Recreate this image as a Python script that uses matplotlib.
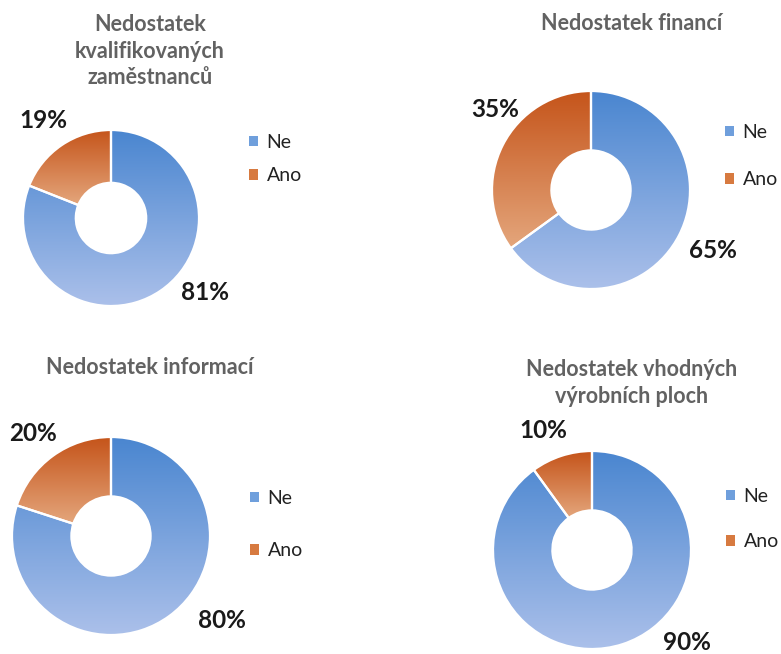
import numpy as np
import matplotlib
matplotlib.use("Agg")
import matplotlib.pyplot as plt
from matplotlib.colors import LinearSegmentedColormap
from matplotlib.patches import Patch

plt.rcParams['font.family'] = ['Lato', 'DejaVu Sans']

# data
titles = ["Nedostatek\nkvalifikovaných\nzaměstnanců",
          "Nedostatek financí",
          "Nedostatek informací",
          "Nedostatek vhodných\nvýrobních ploch"]
categories = ["Ne", "Ano"]
ne_values = [81, 65, 80, 90]
ano_values = [19, 35, 20, 10]

# colours (top -> bottom of each slice)
blue_grad = ("#4a86d0", "#abc0ea")
orange_grad = ("#c5541a", "#e4a67c")
legend_colors = ["#6f9fdc", "#d77a40"]

W, H = 781, 654
# layout in pixels: donut centre, radius, title centre, legend x, legend rows y,
# label offsets (Ne, Ano) in units of radius
layout = [
    dict(c=(111, 218), r=88, t=(150, 51), lx=249, ly=(141, 177),
         lab=((1.07, -0.85), (-0.77, 1.11))),
    dict(c=(591, 190), r=99, t=(632, 23), lx=725, ly=(131, 181),
         lab=((1.23, -0.61), (-0.97, 0.81))),
    dict(c=(111, 536), r=99, t=(150, 368), lx=250, ly=(497, 552),
         lab=((1.12, -0.85), (-0.79, 1.04))),
    dict(c=(592, 550), r=99, t=(632, 383), lx=726, ly=(495, 543),
         lab=((0.96, -0.93), (-0.49, 1.21))),
]

fig = plt.figure(figsize=(W / 100, H / 100), dpi=100)

for i in range(4):
    L = layout[i]
    cx, cy = L["c"]
    r = L["r"]
    ax = fig.add_axes([(cx - r) / W, 1 - (cy + r) / H, 2 * r / W, 2 * r / H])
    vals = [ne_values[i], ano_values[i]]
    wedges, _ = ax.pie(vals, startangle=90, counterclock=False, radius=1,
                       colors=legend_colors,
                       wedgeprops=dict(width=0.6, edgecolor="white", linewidth=1.6))
    # vertical gradient fill, clipped to each slice
    for w, grad in zip(wedges, [blue_grad, orange_grad]):
        bb = w.get_path().get_extents()
        cmap = LinearSegmentedColormap.from_list("g", [grad[1], grad[0]])
        im = ax.imshow(np.linspace(0, 1, 256).reshape(-1, 1), cmap=cmap,
                       origin="lower", aspect="auto",
                       extent=(bb.x0, bb.x1, bb.y0, bb.y1), zorder=0.5)
        im.set_clip_path(w)
        w.set_facecolor("none")
        w.set_zorder(1)
    ax.set_xlim(-1, 1)
    ax.set_ylim(-1, 1)
    ax.axis("off")

    for v, (dx, dy) in zip(vals, L["lab"]):
        ax.text(dx, dy, f"{v}%", ha="center", va="center", fontsize=17.5,
                fontweight="bold", color="#1a1a1a")

    fig.text(L["t"][0] / W, 1 - L["t"][1] / H, titles[i], ha="center", va="center",
             fontsize=15.5, fontweight="bold", color="#626262", linespacing=1.35)

    handles = [Patch(facecolor=c, edgecolor="none") for c in legend_colors]
    fs = 14
    gap = (L["ly"][1] - L["ly"][0]) / (fs * 100 / 72) - 1
    ax.legend(handles, categories, loc="center left", frameon=False,
              bbox_to_anchor=(L["lx"] / W, 1 - (L["ly"][0] + L["ly"][1]) / 2 / H),
              bbox_transform=fig.transFigure, fontsize=fs, handlelength=0.45,
              handleheight=0.45, handletextpad=0.45, labelspacing=gap,
              borderpad=0, borderaxespad=0, labelcolor="#222222")

fig.savefig("out.png", dpi=100, facecolor="white")
